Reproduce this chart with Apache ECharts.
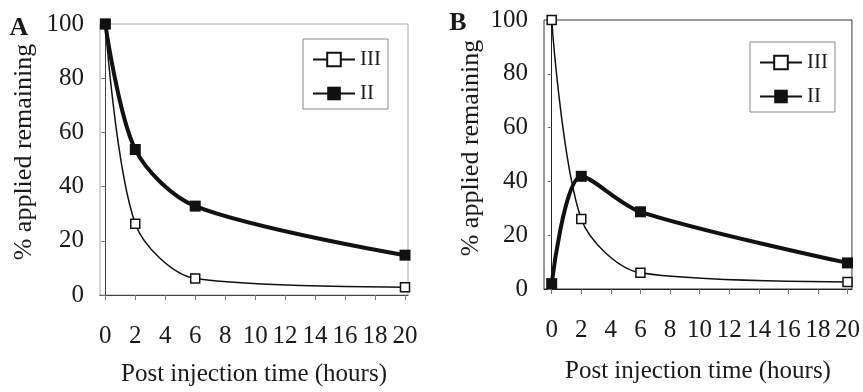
<!DOCTYPE html>
<html>
<head>
<meta charset="utf-8">
<script src="https://cdn.jsdelivr.net/npm/echarts@6/dist/echarts.min.js"></script>
<style>
  html, body { margin: 0; padding: 0; background: #fff; }
  #chart { width: 863px; height: 392px; }
</style>
</head>
<body>
<div id="chart"></div>
<script>
// hours after injection
const hours = [0, 2, 6, 20];
// panel A
const aIII = [100, 26.3, 6.1, 2.9];
const aII = [100, 53.7, 32.8, 14.7];
// panel B
const bIII = [100, 26.0, 6.0, 2.6];
const bII = [2.0, 41.9, 28.7, 9.7];

const xTicks = [0, 2, 4, 6, 8, 10, 12, 14, 16, 18, 20];
const yTicks = [0, 20, 40, 60, 80, 100];

const serif = 'Liberation Serif';
const ink = '#1a1a1a';

function pairs(xs, ys) {
    return xs.map((x, i) => [x, ys[i]]);
}

function xAxisFor(idx, min, max, gap, lineColor) {
    return {
        type: 'value', gridIndex: idx, min: min, max: max,
        name: 'Post injection time (hours)',
        nameLocation: 'middle', nameGap: gap,
        nameTextStyle: {fontFamily: serif, fontSize: 25, color: ink},
        axisLine: {lineStyle: {color: lineColor, width: 1}},
        axisTick: {show: true, customValues: xTicks, length: 5, lineStyle: {color: '#777'}},
        axisLabel: {customValues: xTicks, margin: 29, fontFamily: serif, fontSize: 25, color: ink},
        splitLine: {show: false}
    };
}

function yAxisFor(idx, lineColor) {
    return {
        type: 'value', gridIndex: idx, min: 0, max: 100, interval: 20,
        axisLine: {show: true, lineStyle: {color: lineColor, width: 1}},
        axisTick: {show: true, length: 4, lineStyle: {color: '#777'}},
        axisLabel: {margin: 16, fontFamily: serif, fontSize: 25, color: ink},
        splitLine: {show: false}
    };
}

function openSeries(name, idx, data) {
    return {
        name: name, type: 'line', xAxisIndex: idx, yAxisIndex: idx,
        data: data, smooth: 0.3, symbol: 'rect', symbolSize: 9,
        itemStyle: {color: '#fff', borderColor: '#111', borderWidth: 1.5},
        lineStyle: {color: '#111', width: 1.5},
        z: 3
    };
}

function filledSeries(name, idx, data) {
    return {
        name: name, type: 'line', xAxisIndex: idx, yAxisIndex: idx,
        data: data, smooth: 0.3, symbol: 'rect', symbolSize: 11,
        itemStyle: {color: '#111'},
        lineStyle: {color: '#111', width: 4},
        z: 4
    };
}

function legendAt(left, top) {
    return {
        orient: 'vertical', left: left, top: top,
        data: ['III', 'II'],
        itemWidth: 42, itemHeight: 17, itemGap: 13,
        padding: [10, 7, 5, 9],
        borderColor: '#888', borderWidth: 1, borderRadius: 0,
        selectedMode: false,
        textStyle: {fontFamily: serif, fontSize: 21, color: ink}
    };
}

const chart = echarts.init(document.getElementById('chart'), null, {renderer: 'canvas'});

chart.setOption({
    backgroundColor: '#fff',
    animation: false,
    grid: [
        {left: 100, top: 24, width: 308, height: 272, show: true, borderColor: '#aaa', borderWidth: 1},
        {left: 544, top: 20, width: 309, height: 269, show: true, borderColor: '#333', borderWidth: 1}
    ],
    xAxis: [
        xAxisFor(0, -0.354, 20.2, 67, '#444'),
        xAxisFor(1, -0.52, 20.3, 70, '#222')
    ],
    yAxis: [
        yAxisFor(0, '#444'),
        yAxisFor(1, '#222')
    ],
    legend: [
        legendAt(303, 39),
        legendAt(750, 42)
    ],
    series: [
        openSeries('III', 0, pairs(hours, aIII)),
        filledSeries('II', 0, pairs(hours, aII)),
        openSeries('III', 1, pairs(hours, bIII)),
        filledSeries('II', 1, pairs(hours, bII))
    ],
    graphic: [
        {type: 'text', x: 19, y: 28, style: {text: 'A', fontFamily: serif, fontWeight: 'bold', fontSize: 26, fill: ink, align: 'center', verticalAlign: 'middle'}},
        {type: 'text', x: 458, y: 23, style: {text: 'B', fontFamily: serif, fontWeight: 'bold', fontSize: 26, fill: ink, align: 'center', verticalAlign: 'middle'}},
        {type: 'text', x: 24, y: 152, rotation: Math.PI / 2, style: {text: '% applied remaining', fontFamily: serif, fontSize: 26, fill: ink, align: 'center', verticalAlign: 'middle'}},
        {type: 'text', x: 471, y: 148, rotation: Math.PI / 2, style: {text: '% applied remaining', fontFamily: serif, fontSize: 26, fill: ink, align: 'center', verticalAlign: 'middle'}}
    ]
});
</script>
</body>
</html>
